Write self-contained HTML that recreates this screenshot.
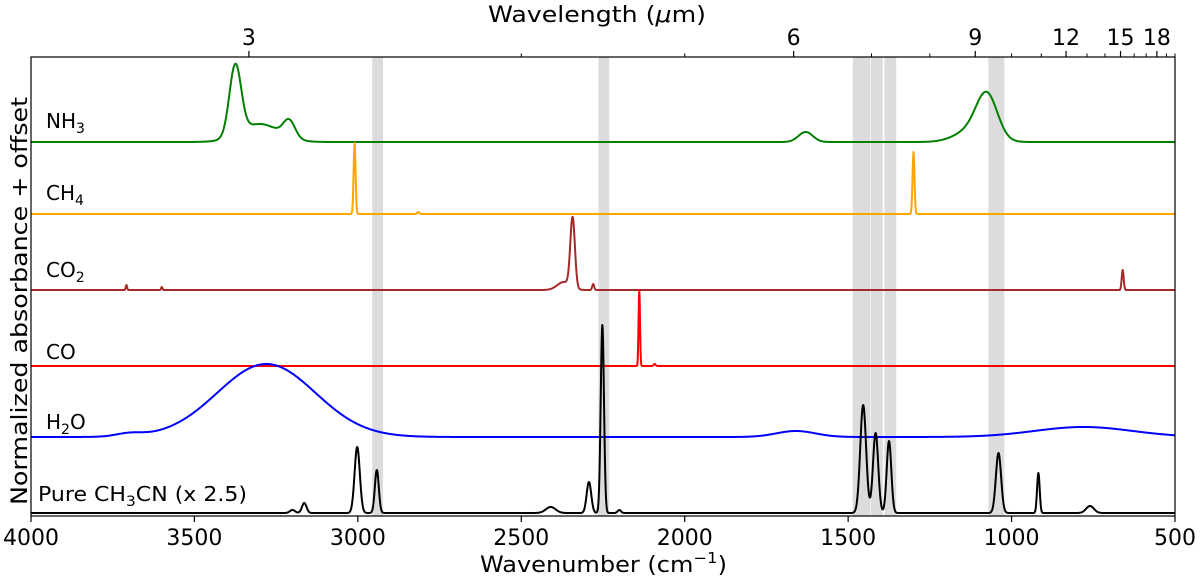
<!DOCTYPE html>
<html><head><meta charset="utf-8"><style>
html,body{margin:0;padding:0;background:#fff;}
body{position:relative;width:1200px;height:580px;overflow:hidden;}
svg{display:block;font-family:"DejaVu Sans","Liberation Sans",sans-serif;}
</style></head><body>
<svg id="chart" width="1200" height="580" viewBox="0 0 1200 580" xmlns="http://www.w3.org/2000/svg"></svg>
<script>
// ---- data ----
const xTicks = [4000, 3500, 3000, 2500, 2000, 1500, 1000, 500];
const topMajor = [3, 6, 9, 12, 15, 18];
const topMinor = [4, 5, 7, 8, 10, 11, 13, 14, 16, 17, 19, 20];
const bands = [[2956, 2923], [2264, 2231], [1486, 1432], [1430, 1394], [1389, 1353], [1071, 1022]];
const seriesNames = ["NH3", "CH4", "CO2", "CO", "H2O", "CH3CN"];
const seriesColors = ["#008000", "#ffa500", "#a52a2a", "#ff0000", "#0000ff", "#000000"];
const offsets = [142, 214, 290, 366, 437, 513];
// peaks: [center cm-1, height, width(sigma)]
const peaksNH3 = [[3375, 70, 18], [3300, 18, 60], [3210, 17, 18], [1630, 10, 22], [1075, 42, 32], [1120, 12, 50]];
const peaksCH4 = [[3010, 71, 3], [2815, 2, 3], [1300, 62, 3]];
const peaksCO2 = [[2343, 70, 7], [2370, 8, 20], [2280, 6, 3], [3708, 5, 2], [3600, 3, 2], [660, 20, 3]];
const peaksCO = [[2139, 76, 2.2], [2092, 2, 3]];
const peaksH2O = [[3280, 73, 150], [3700, 3, 40], [1660, 6, 60], [780, 10, 150]];
const peaksCH3CN = [[3002, 66, 8], [2942, 43, 6], [3164, 10, 7], [3200, 3, 8], [2410, 6, 15], [2293, 31, 7], [2252, 188, 5], [2200, 3, 5], [1454, 108, 9], [1416, 80, 8], [1375, 72, 7], [1040, 60, 8], [918, 40, 4], [760, 7, 12]];
const allPeaks = [peaksNH3, peaksCH4, peaksCO2, peaksCO, peaksH2O, peaksCH3CN];

// ---- layout ----
const L = 31, R = 1175, T = 57, B = 516;
const xs = wn => L + (4000 - wn) / 3500 * (R - L);
const ys = (v, off) => off - v;
const svg = document.getElementById('chart');
const NS = 'http://www.w3.org/2000/svg';
function mk(tag, attrs, parent) {
  const e = document.createElementNS(NS, tag);
  for (const k in attrs) e.setAttribute(k, attrs[k]);
  (parent || svg).appendChild(e);
  return e;
}

bands.forEach((b, i) => {
  const r = mk('rect', {x: xs(b[0]), y: T, width: xs(b[1]) - xs(b[0]), height: B - T, fill: '#dcdcdc'});
  
  
});

allPeaks.forEach((pk, si) => {
  let d = '';
  for (let wn = 4000; wn >= 500; wn -= 1) {
    let v = 0;
    pk.forEach(p => { const z = (wn - p[0]) / p[2]; v += p[1] * Math.exp(-0.5 * z * z); });
    d += (wn === 4000 ? 'M' : 'L') + xs(wn).toFixed(2) + ',' + ys(v, offsets[si]).toFixed(2);
  }
  const p = mk('path', {d: d, fill: 'none', stroke: seriesColors[si], 'stroke-width': 2, 'stroke-linejoin': 'round'});
  
  
});

const fr = mk('rect', {x: L, y: T, width: R - L, height: B - T, fill: 'none', stroke: '#000', 'stroke-width': 1.2});



xTicks.forEach(t => {
  const x = xs(t);
  const ln = mk('line', {x1: x, x2: x, y1: B, y2: B + 6, stroke: '#000', 'stroke-width': 1.2});
  
  
  const tx = mk('text', {x: x, y: B + 29, 'font-size': 22, 'text-anchor': 'middle'});
  tx.textContent = t;
  
  
});
topMajor.forEach(t => {
  const x = xs(10000 / t);
  const ln = mk('line', {x1: x, x2: x, y1: T, y2: T - 6, stroke: '#000', 'stroke-width': 1.2});
  
  
  const tx = mk('text', {x: x, y: T - 12, 'font-size': 22, 'text-anchor': 'middle'});
  tx.textContent = t;
  
  
});
topMinor.forEach(t => {
  const x = xs(10000 / t);
  if (x > R) return;
  const ln = mk('line', {x1: x, x2: x, y1: T, y2: T - 3.5, stroke: '#000', 'stroke-width': 1});
  
  
});
</script>
<svg width="1200" height="580" style="position:absolute;left:0;top:0" font-family="DejaVu Sans, Liberation Sans, sans-serif">
  <text x="488" y="22" font-size="22" textLength="218" lengthAdjust="spacingAndGlyphs">Wavelength (<tspan font-style="italic">μ</tspan>m)</text>
  <text x="480" y="572" font-size="22" textLength="247" lengthAdjust="spacingAndGlyphs">Wavenumber (cm<tspan dy="-9" font-size="15">−1</tspan><tspan dy="9">)</tspan></text>
  <text transform="translate(27,505) rotate(-90)" font-size="22" textLength="408" lengthAdjust="spacingAndGlyphs">Normalized absorbance + offset</text>
  <text x="46" y="128" font-size="20">NH<tspan dy="5" font-size="14">3</tspan></text>
  <text x="46" y="200" font-size="20">CH<tspan dy="5" font-size="14">4</tspan></text>
  <text x="46" y="277" font-size="20">CO<tspan dy="5" font-size="14">2</tspan></text>
  <text x="46" y="359" font-size="20">CO</text>
  <text x="46" y="429" font-size="20">H<tspan dy="5" font-size="14">2</tspan><tspan dy="-5">O</tspan></text>
  <text x="38" y="501" font-size="20" textLength="209" lengthAdjust="spacingAndGlyphs">Pure CH<tspan dy="5" font-size="14">3</tspan><tspan dy="-5">CN (x 2.5)</tspan></text>
</svg>
</body></html>
